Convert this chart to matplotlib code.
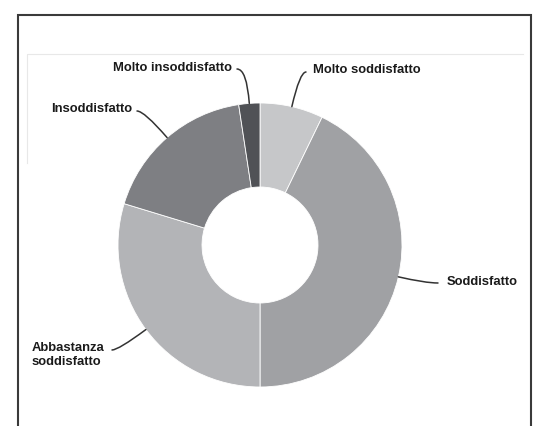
import numpy as np
import matplotlib
matplotlib.use("Agg")
import matplotlib.pyplot as plt

# ---- data ----
categories = ["Molto soddisfatto", "Soddisfatto", "Abbastanza\nsoddisfatto",
              "Insoddisfatto", "Molto insoddisfatto"]
values = [7.2, 42.8, 29.7, 17.9, 2.4]
colors = ["#c6c7c9", "#a0a1a4", "#b3b4b7", "#7e7f83", "#505256"]

W, H = 541, 426
plt.rcParams['font.family'] = ['Liberation Sans', 'DejaVu Sans']

fig = plt.figure(figsize=(W / 100, H / 100), dpi=100)
ax = fig.add_axes([0, 0, 1, 1])


def Y(y):
    return H - y


cx, cy, R, r_in = 260, 245, 142, 58
ax.pie(values, colors=colors, startangle=90, counterclock=False,
       radius=R, center=(cx, Y(cy)),
       wedgeprops=dict(width=R - r_in, edgecolor="white", linewidth=0.6))
ax.set_xlim(0, W)
ax.set_ylim(0, H)
ax.set_aspect("equal")
ax.axis("off")

# frame (scanned figure border)
ax.plot([18, 18, 531, 531], [-5, Y(15), Y(15), -5], color="#3a3a3a", lw=1.5,
        solid_joinstyle="miter", clip_on=False)
# faint scan lines
ax.plot([27, 27, 523], [Y(163), Y(54), Y(54)], color="#e8e8e8", lw=0.8)

# label placement: (text anchor x, y, ha, leader start x, y)
label_pos = {
    "Molto soddisfatto": (313, 70, "left", 306, 72),
    "Soddisfatto": (447, 282, "left", 438, 283),
    "Abbastanza\nsoddisfatto": (32, 355, "left", 112, 350),
    "Insoddisfatto": (132, 109, "right", 137, 111),
    "Molto insoddisfatto": (232, 68, "right", 237, 69),
}

total = sum(values)
cum = 0.0
for cat, v in zip(categories, values):
    mid = (cum + v / 2) / total * 360.0  # clockwise from top
    cum += v
    th = np.deg2rad(mid)
    ex = cx + R * np.sin(th)
    ey = cy - R * np.cos(th)
    tx, ty, ha, sx, sy = label_pos[cat]
    angB = 90 - mid
    ax.annotate("", xy=(ex, Y(ey)), xytext=(sx, Y(sy)),
                arrowprops=dict(arrowstyle="-", color="#333333", lw=1.1,
                                shrinkA=0, shrinkB=0,
                                connectionstyle=f"angle3,angleA=0,angleB={angB}"))
    ax.text(tx, Y(ty), cat, ha=ha, va="center", fontsize=9.4,
            fontweight="bold", color="#1a1a1a", linespacing=1.3)

fig.savefig("out.png", dpi=100)
